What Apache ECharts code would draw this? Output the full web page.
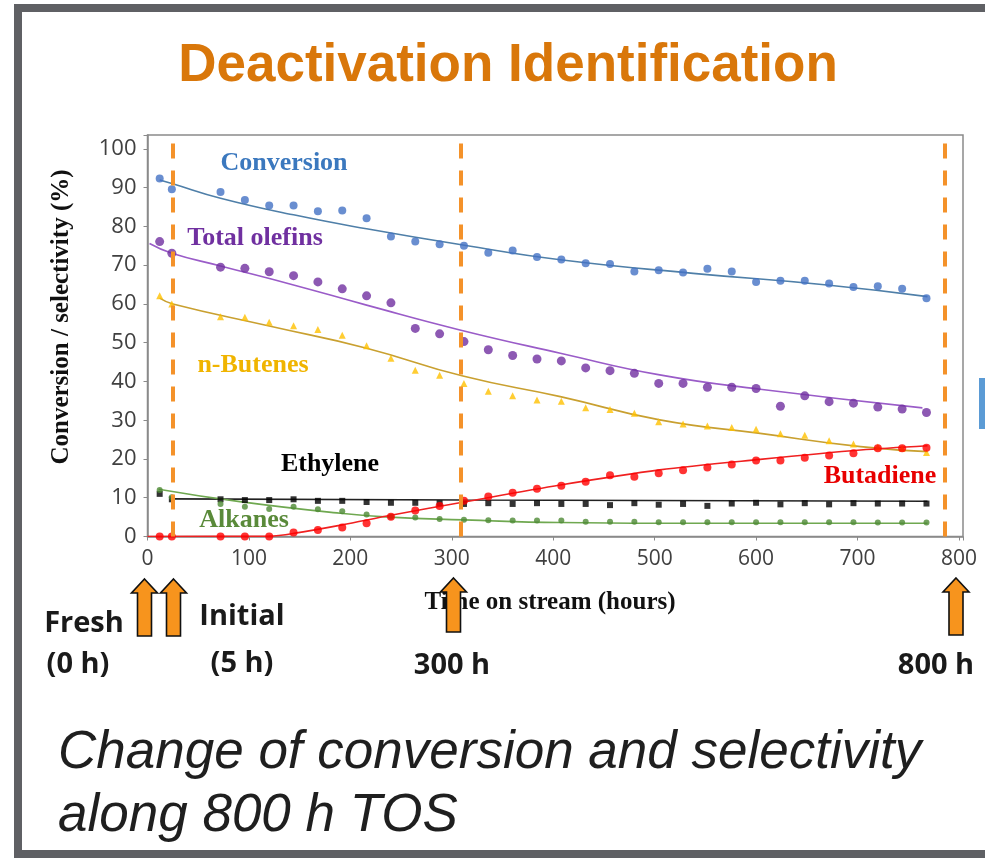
<!DOCTYPE html>
<html>
<head>
<meta charset="utf-8">
<script src="https://cdn.jsdelivr.net/npm/echarts@6/dist/echarts.min.js"></script>
<style>
html,body{margin:0;padding:0;background:#fff;}
#chart{width:985px;height:858px;}
</style>
</head>
<body>
<div id="chart"></div>
<script>
// ---- data ----
const hours = [12,24,72,96,120,144,168,192,216,240,264,288,312,336,360,384,408,432,456,480,504,528,552,576,600,624,648,672,696,720,744,768];
const conversion = [92.4,89.6,88.9,86.8,85.4,85.4,83.9,84.1,82.1,77.4,76.1,75.4,75.0,73.2,73.8,72.1,71.5,70.5,70.3,68.4,68.7,68.1,69.1,68.4,65.7,66.0,66.0,65.3,64.4,64.6,63.9,61.5];
const olefins = [76.1,73.1,69.5,69.2,68.3,67.3,65.7,63.9,62.1,60.3,53.7,52.3,50.3,48.2,46.7,45.8,45.3,43.5,42.8,42.1,39.5,39.5,38.5,38.5,38.2,33.6,36.3,34.8,34.4,33.4,32.9,32.0];
const butenes = [62.1,60.0,56.7,56.6,55.3,54.4,53.4,51.9,49.2,46.0,42.9,41.6,39.5,37.5,36.3,35.2,34.9,33.2,32.8,31.8,29.6,29.0,28.5,28.1,27.7,26.5,26.1,24.7,23.9,23.1,22.8,21.7];
const ethylene = [11.0,9.6,9.6,9.4,9.4,9.6,9.2,9.2,8.9,8.7,8.7,8.6,8.4,8.6,8.4,8.6,8.4,8.4,8.1,8.6,8.2,8.4,7.9,8.5,8.7,8.3,8.6,8.3,8.6,8.5,8.5,8.5];
const alkanes = [12.0,10.1,8.4,7.7,7.1,7.7,7.0,6.5,5.7,5.1,4.9,4.5,4.3,4.2,4.1,4.1,4.1,3.8,3.8,3.8,3.7,3.7,3.7,3.7,3.7,3.7,3.7,3.7,3.7,3.6,3.6,3.6];
const butadiene = [0,0,0,0,0,1.0,1.7,2.3,3.4,5.1,6.7,7.9,9.2,10.3,11.3,12.3,13.1,14.1,15.8,15.4,16.3,17.1,17.8,18.6,19.6,19.6,20.3,20.9,21.5,22.8,22.8,22.9];

// trend (fit) curves: [hours, value]
const conversionFit = [[12,92.0],[24,91.1],[72,87.3],[144,83.0],[216,79.4],[311,75.2],[407,71.4],[538,67.9],[670,64.9],[769,61.9]];
const olefinsFit = [[2,75.6],[24,73.1],[72,69.8],[144,64.9],[216,59.7],[308,53.3],[407,47.3],[505,41.7],[604,38.0],[764,33.2]];
const butenesFit = [[12,61.5],[25,60.0],[120,54.3],[216,48.6],[311,41.4],[407,36.1],[505,30.1],[604,26.6],[703,23.2],[769,21.9]];
const ethyleneFit = [[22,9.7],[311,9.4],[769,9.1]];
const alkanesFit = [[11,12.2],[91,9.0],[190,6.0],[239,5.0],[312,4.3],[407,3.6],[550,3.4],[769,3.4]];
const butadieneFit = [[0,0],[120,0.1],[144,0.8],[192,3.0],[240,5.5],[312,8.9],[407,13.3],[505,17.2],[604,19.9],[703,22.3],[769,23.4]];

// sampling milestones (dashed markers), hours
const milestones = [25, 309, 786];
const xTicks = [0,100,200,300,400,500,600,700,800];
const yTicks = [0,10,20,30,40,50,60,70,80,90,100];

function pairs(xs, ys){ return xs.map((x,i)=>[x, ys[i]]); }

const chart = echarts.init(document.getElementById('chart'), null, {renderer:'canvas'});

const serif = '"Liberation Serif","DejaVu Serif",serif';
const tickFont = '"Open Sans","Noto Sans",sans-serif';

function arrow(cx, tipY, botY){
  const hw = 13, sw = 7, hb = tipY + 14;
  return {
    type:'polygon', z:100,
    shape:{points:[[cx,tipY],[cx+hw,hb],[cx+sw,hb],[cx+sw,botY],[cx-sw,botY],[cx-sw,hb],[cx-hw,hb]]},
    style:{fill:'#F7941D', stroke:'#111', lineWidth:1.6}
  };
}
function txt(x, y, text, font, fill, align){
  return {type:'text', x:x, y:y, z:90,
    style:{text:text, font:font, fill:fill, align:align||'center', verticalAlign:'middle'}};
}

const option = {
  backgroundColor:'#fff',
  animation:false,
  grid:{left:147.5, right:22, top:135, bottom:321.5, show:true, borderColor:'#8a8a8a', borderWidth:1.5, backgroundColor:'transparent'},
  xAxis:{
    type:'value', min:0, max:804, interval:100,
    axisLine:{show:true, lineStyle:{color:'#8a8a8a', width:1.5}},
    axisTick:{show:true, inside:false, length:4, lineStyle:{color:'#8a8a8a'}},
    splitLine:{show:false},
    axisLabel:{margin:12, fontSize:21, color:'#404040', fontFamily:tickFont,
      formatter:v=> xTicks.indexOf(v)>=0 ? String(v) : ''}
  },
  yAxis:{
    type:'value', min:0, max:103.6, interval:10,
    axisLine:{show:true, lineStyle:{color:'#8a8a8a', width:1.5}},
    axisTick:{show:true, inside:false, length:4, lineStyle:{color:'#8a8a8a'}},
    splitLine:{show:false},
    axisLabel:{margin:11, fontSize:22, color:'#404040', fontFamily:tickFont,
      formatter:v=> yTicks.indexOf(Math.round(v*1000)/1000)>=0 ? String(v) : ''}
  },
  series:[
    {type:'line', name:'milestones', data:[], silent:true,
      markLine:{symbol:['none','none'], silent:true, label:{show:false},
        lineStyle:{color:'#F4922A', width:4, type:[15,12]},
        data: milestones.map(m=>({xAxis:m}))}},
    {type:'line', name:'Conversion fit', data:conversionFit, smooth:true, showSymbol:false, lineStyle:{color:'#4F7FA8', width:1.6}, z:3},
    {type:'line', name:'Olefins fit', data:olefinsFit, smooth:true, showSymbol:false, lineStyle:{color:'#9A5CC8', width:1.6}, z:3},
    {type:'line', name:'Butenes fit', data:butenesFit, smooth:true, showSymbol:false, lineStyle:{color:'#C9A030', width:1.6}, z:3},
    {type:'line', name:'Ethylene fit', data:ethyleneFit, smooth:true, showSymbol:false, lineStyle:{color:'#222', width:1.6}, z:3},
    {type:'line', name:'Alkanes fit', data:alkanesFit, smooth:true, showSymbol:false, lineStyle:{color:'#6FA850', width:1.6}, z:3},
    {type:'line', name:'Butadiene fit', data:butadieneFit, smooth:0.3, showSymbol:false, lineStyle:{color:'#F02020', width:1.6}, z:3},
    {type:'scatter', name:'Conversion', data:pairs(hours, conversion), symbol:'circle', symbolSize:8, itemStyle:{color:'#4472C4'}, z:4},
    {type:'scatter', name:'Total olefins', data:pairs(hours, olefins), symbol:'circle', symbolSize:9, itemStyle:{color:'#7030A0'}, z:4},
    {type:'scatter', name:'n-Butenes', data:pairs(hours, butenes), symbol:'triangle', symbolSize:7, itemStyle:{color:'#FFC000'}, z:4},
    {type:'scatter', name:'Ethylene', data:pairs(hours, ethylene), symbol:'rect', symbolSize:6, itemStyle:{color:'#000'}, z:4},
    {type:'scatter', name:'Alkanes', data:pairs(hours, alkanes), symbol:'circle', symbolSize:6, itemStyle:{color:'#4E8A35'}, z:4},
    {type:'scatter', name:'Butadiene', data:pairs(hours, butadiene), symbol:'circle', symbolSize:8, itemStyle:{color:'#FF0000'}, z:4}
  ],
  graphic:[
    // slide frame
    {type:'rect', z:1, shape:{x:18, y:8, width:990, height:846}, style:{fill:'none', stroke:'#5f6064', lineWidth:8}},
    {type:'rect', z:1, shape:{x:979, y:378, width:8, height:51}, style:{fill:'#5B9BD5'}},
    // title
    txt(508, 66, 'Deactivation Identification', 'bold 53px "Liberation Sans", Arial, sans-serif', '#D9770A'),
    // axis titles
    {type:'text', x:62, y:317, rotation:Math.PI/2, z:90,
      style:{text:'Conversion / selectivity (%)', font:'bold 25px '+serif, fill:'#111', align:'center', verticalAlign:'middle'}},
    txt(550, 603, 'Time on stream (hours)', 'bold 25px '+serif, '#111'),
    // in-plot labels
    txt(284, 163, 'Conversion', 'bold 26px '+serif, '#3B78BE'),
    txt(255, 238, 'Total olefins', 'bold 26px '+serif, '#7030A0'),
    txt(253, 365, 'n-Butenes', 'bold 26px '+serif, '#F0B400'),
    txt(330, 464, 'Ethylene', 'bold 26px '+serif, '#000'),
    txt(244, 520, 'Alkanes', 'bold 26px '+serif, '#5A8A3A'),
    txt(880, 476, 'Butadiene', 'bold 26px '+serif, '#E80000'),
    // arrows
    arrow(144.5, 579, 636),
    arrow(173.5, 579, 636),
    arrow(453.5, 578, 632),
    arrow(956, 578, 635),
    // milestone labels
    txt(84, 624, 'Fresh', 'bold 29px "Open Sans", sans-serif', '#1a1a1a'),
    txt(78, 665, '(0 h)', 'bold 29px "Open Sans", sans-serif', '#1a1a1a'),
    txt(242, 617, 'Initial', 'bold 29px "Open Sans", sans-serif', '#1a1a1a'),
    txt(242, 664, '(5 h)', 'bold 29px "Open Sans", sans-serif', '#1a1a1a'),
    txt(452, 666, '300 h', 'bold 29px "Open Sans", sans-serif', '#1a1a1a'),
    txt(936, 666, '800 h', 'bold 29px "Open Sans", sans-serif', '#1a1a1a'),
    // caption
    txt(58, 753, 'Change of conversion and selectivity', 'italic 53px "Liberation Sans", Arial, sans-serif', '#1f1f1f', 'left'),
    txt(58, 816, 'along 800 h TOS', 'italic 53px "Liberation Sans", Arial, sans-serif', '#1f1f1f', 'left')
  ]
};
chart.setOption(option);
</script>
</body>
</html>
